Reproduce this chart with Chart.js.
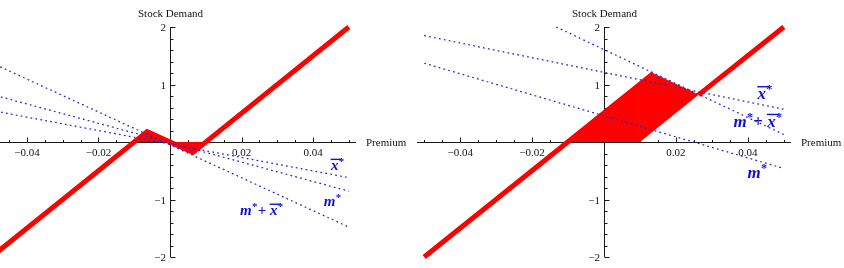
<!DOCTYPE html>
<html><head><meta charset="utf-8">
<script src="https://cdn.jsdelivr.net/npm/chart.js@4/dist/chart.umd.min.js"></script>
<style>
html,body{margin:0;padding:0;background:#fff;overflow:hidden;width:844px;height:268px;position:relative}
canvas{position:absolute;top:0}
#c1{left:-16px}
#c2{left:417px}
</style></head><body>
<canvas id="c1" width="436" height="268"></canvas>
<canvas id="c2" width="427" height="268"></canvas>
<script>
// ---- tick values and labels ----
const xTickValues = [-0.04, -0.02, 0.02, 0.04];
const xTickLabels = ['\u22120.04', '\u22120.02', '0.02', '0.04'];
const xMinorTicks = [-0.05, -0.045, -0.035, -0.03, -0.025, -0.015, -0.01, -0.005,
                     0.005, 0.01, 0.015, 0.025, 0.03, 0.035, 0.045, 0.05];
const yTickValues = [-2, -1, 1, 2];
const yTickLabels = ['\u22122', '\u22121', '1', '2'];
const yMinorTicks = [-1.8, -1.6, -1.4, -1.2, -0.8, -0.6, -0.4, -0.2,
                     0.2, 0.4, 0.6, 0.8, 1.2, 1.4, 1.6, 1.8];
const axisTitleX = 'Premium';
const axisTitleY = 'Stock Demand';

// ---- left panel series ----
const leftDemandX = [-0.05, -0.0064, 0.0064, 0.05];
const leftDemandY = [-2, 0.18, -0.18, 2];
const leftBandX = [-0.01, -0.0064, 0, 0.0064, 0.01];
const leftBandY = [0, 0.18, 0, -0.18, 0];
const leftLineX = [-0.05, 0.05];
const leftXbarY = [0.55, -0.62];
const leftMY = [0.83, -0.855];
const leftMXbarY = [1.38, -1.48];

// ---- right panel series ----
const rightDemandLowX = [-0.05, 0.0137];
const rightDemandLowY = [-2, 1.19];
const rightDemandHighX = [0.0263, 0.05];
const rightDemandHighY = [0.82, 2];
const rightBandAX = [-0.01, 0.01, 0.01];
const rightBandAY = [0, 1.0, 0];
const rightBandBX = [0.01, 0.01, 0.0137, 0.0263];
const rightBandBY = [0, 1.0, 1.19, 0.82];
const rightLineX = [-0.05, 0.05];
const rightXbarY = [1.85, 0.57];
const rightMY = [1.37, -0.46];
const rightMXbarX = [-0.0133, 0.05];
const rightMXbarY = [2.0, 0.13];

// label tokens
const TOK_XBAR = [{t: 'x', bar: true}, {k: 'sup'}];
const TOK_M = [{t: 'm'}, {k: 'sup'}];
const TOK_MXBAR = [{t: 'm'}, {k: 'sup'}, {k: 'op', t: '+'}, {t: 'x', bar: true}, {k: 'sup'}];

const RED = '#ff0000';
const BLUE_LINE = 'rgb(40,40,205)';
const BLUE_TEXT = 'rgb(15,15,220)';
const SERIF = '"Liberation Serif", "Times New Roman", serif';

function pts(xs, ys) { return xs.map((x, i) => ({x: x, y: ys[i]})); }
function dotted(xs, ys) {
  return {data: pts(xs, ys), showLine: true, borderColor: BLUE_LINE, borderWidth: 1.25,
    borderDash: [1.8, 3.2], pointRadius: 0, fill: false, order: 0, clip: false};
}
function thick(xs, ys) {
  return {data: pts(xs, ys), showLine: true, borderColor: RED, borderWidth: 5,
    borderCapStyle: 'butt', borderJoinStyle: 'miter', pointRadius: 0, fill: false, order: 1, clip: false};
}
function band(xs, ys) {
  return {data: pts(xs, ys), showLine: true, borderColor: RED, borderWidth: 0.6,
    backgroundColor: RED, pointRadius: 0, fill: 'shape', order: 2, clip: false};
}

function drawMath(ctx, tokens, px, py, s) {
  let cx = px;
  ctx.fillStyle = BLUE_TEXT;
  ctx.strokeStyle = BLUE_TEXT;
  ctx.textAlign = 'left';
  ctx.textBaseline = 'alphabetic';
  tokens.forEach(tk => {
    if (tk.k === 'sup') {
      ctx.font = 'bold ' + (0.72 * s) + 'px ' + SERIF;
      ctx.fillText('*', cx + 0.3, py - 0.36 * s);
      cx += ctx.measureText('*').width + 0.5;
    } else if (tk.k === 'op') {
      ctx.font = 'bold ' + s + 'px ' + SERIF;
      ctx.fillText(tk.t, cx, py);
      cx += ctx.measureText(tk.t).width + 0.25 * s;
    } else {
      ctx.font = 'bold italic ' + s + 'px ' + SERIF;
      ctx.fillText(tk.t, cx, py);
      const w = ctx.measureText(tk.t).width;
      if (tk.bar) {
        ctx.lineWidth = 1.4;
        ctx.beginPath();
        ctx.moveTo(cx - 0.02 * s, py - 0.72 * s);
        ctx.lineTo(cx + w + 0.18 * s, py - 0.72 * s);
        ctx.stroke();
      }
      cx += w;
    }
  });
}

const mathAxes = {
  id: 'mathAxes',
  beforeDatasetsDraw(chart) {
    const {ctx, chartArea: a, scales: {x, y}} = chart;
    const x0 = Math.round(x.getPixelForValue(0)) + 0.5;
    const y0 = Math.round(y.getPixelForValue(0)) + 0.5;
    ctx.save();
    ctx.strokeStyle = '#1a1a1a';
    ctx.lineWidth = 1;
    ctx.beginPath();
    ctx.moveTo(a.left, y0); ctx.lineTo(a.right, y0);
    ctx.moveTo(x0, a.top); ctx.lineTo(x0, a.bottom);
    xMinorTicks.forEach(v => { const p = Math.round(x.getPixelForValue(v)) + 0.5; ctx.moveTo(p, y0); ctx.lineTo(p, y0 - 2.5); });
    xTickValues.forEach(v => { const p = Math.round(x.getPixelForValue(v)) + 0.5; ctx.moveTo(p, y0); ctx.lineTo(p, y0 - 5); });
    yMinorTicks.forEach(v => { const p = Math.round(y.getPixelForValue(v)) + 0.5; ctx.moveTo(x0, p); ctx.lineTo(x0 + 3, p); });
    yTickValues.forEach(v => { const p = Math.round(y.getPixelForValue(v)) + 0.5; ctx.moveTo(x0, p); ctx.lineTo(x0 + 5, p); });
    ctx.stroke();
    ctx.fillStyle = '#111';
    ctx.font = '11px ' + SERIF;
    ctx.textBaseline = 'alphabetic';
    ctx.textAlign = 'center';
    xTickValues.forEach((v, i) => ctx.fillText(xTickLabels[i], x.getPixelForValue(v), y0 + 13.5));
    ctx.textAlign = 'right';
    yTickValues.forEach((v, i) => ctx.fillText(yTickLabels[i], x0 - 4.5, y.getPixelForValue(v) + 4));
    ctx.textAlign = 'center';
    ctx.fillText(axisTitleY, x0, a.top - 10);
    ctx.textAlign = 'left';
    ctx.fillText(axisTitleX, a.right + 10, y0 + 3.5);
    ctx.restore();
  },
  afterDatasetsDraw(chart, args, opts) {
    const {ctx, scales: {x, y}} = chart;
    ctx.save();
    (opts.labels || []).forEach(l => {
      drawMath(ctx, l.tokens, x.getPixelForValue(l.x), y.getPixelForValue(l.y), opts.size);
    });
    ctx.restore();
  }
};

function makeChart(id, datasets, padRight, labels, size) {
  return new Chart(document.getElementById(id), {
    type: 'scatter',
    data: {datasets: datasets},
    options: {
      animation: false, responsive: false, devicePixelRatio: 1, events: [],
      layout: {padding: {left: 0, right: padRight, top: 27, bottom: 11}},
      plugins: {legend: {display: false}, tooltip: {enabled: false},
        mathAxes: {labels: labels, size: size}},
      scales: {
        x: {type: 'linear', min: -0.052, max: 0.052, display: false},
        y: {type: 'linear', min: -2, max: 2, display: false}
      }
    },
    plugins: [mathAxes]
  });
}

makeChart('c1', [
  dotted(leftLineX, leftXbarY),
  dotted(leftLineX, leftMY),
  dotted(leftLineX, leftMXbarY),
  thick(leftDemandX, leftDemandY),
  band(leftBandX, leftBandY)
], 64, [
  {tokens: TOK_XBAR, x: 0.0450, y: -0.49},
  {tokens: TOK_M, x: 0.0430, y: -1.113},
  {tokens: TOK_MXBAR, x: 0.0196, y: -1.27}
], 15);

makeChart('c2', [
  dotted(rightLineX, rightXbarY),
  dotted(rightLineX, rightMY),
  dotted(rightMXbarX, rightMXbarY),
  thick(rightDemandLowX, rightDemandLowY),
  thick(rightDemandHighX, rightDemandHighY),
  band(rightBandAX, rightBandAY),
  band(rightBandBX, rightBandBY)
], 53, [
  {tokens: TOK_XBAR, x: 0.0427, y: 0.748},
  {tokens: TOK_MXBAR, x: 0.0360, y: 0.266},
  {tokens: TOK_M, x: 0.0399, y: -0.621}
], 17);
</script>
</body></html>
